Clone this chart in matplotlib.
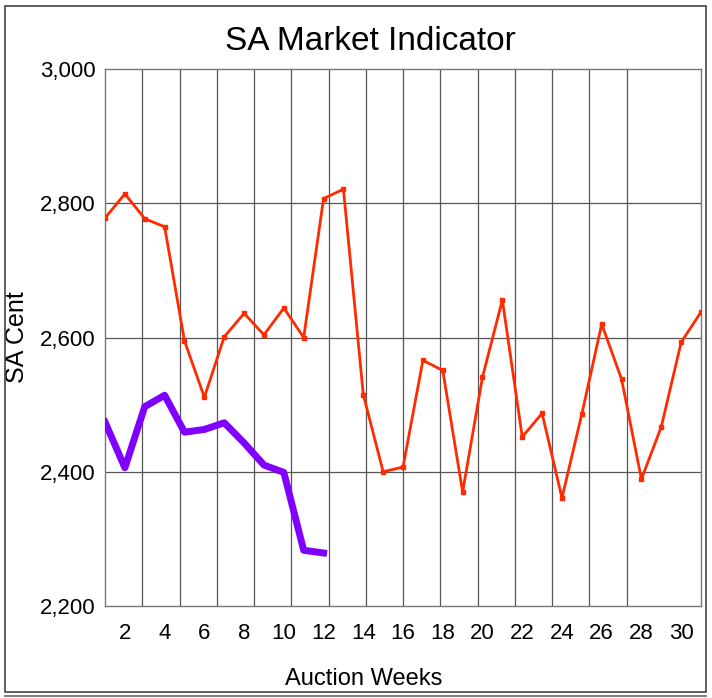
import matplotlib

matplotlib.use("Agg")
import matplotlib.pyplot as plt
from matplotlib.lines import Line2D
from matplotlib.patches import Rectangle

plt.rcParams["font.family"] = ["Liberation Sans", "DejaVu Sans"]

# Weekly SA market indicator, cents
weeks_prev = list(range(1, 32))
indicator_prev = [
    2778, 2814, 2777, 2765, 2595, 2511, 2601, 2636, 2604, 2644,
    2600, 2807, 2821, 2515, 2400, 2407, 2566, 2551, 2370, 2541,
    2656, 2452, 2487, 2361, 2486, 2620, 2538, 2389, 2467, 2593,
    2638,
]
weeks_curr = list(range(1, 13))
indicator_curr = [
    2474, 2406, 2497, 2514, 2459, 2463, 2473, 2443, 2410, 2399,
    2283, 2279,
]
x_ticks = list(range(2, 31, 2))
y_ticks = [2200, 2400, 2600, 2800, 3000]

fig = plt.figure(figsize=(7.12, 6.98), dpi=100)
ax = fig.add_axes([0.1475, 0.1318, 0.8371, 0.7693])

# vertical grid: 16 equal divisions of the week axis (one line absent)
for k in range(1, 16):
    if k == 15:
        continue
    ax.axvline(1 + 30 / 16 * k, color="#555555", lw=0.9, zorder=1)
for y in y_ticks[1:-1]:
    ax.axhline(y, color="#555555", lw=0.9, zorder=1)

ax.plot(weeks_prev, indicator_prev, color="#ff2a00", lw=2,
        marker="s", ms=3.5, zorder=3)
ax.plot(weeks_curr, indicator_curr, color="#8000ff", lw=5,
        solid_joinstyle="round", zorder=4)

ax.set_xlim(1, 31)
ax.set_ylim(2200, 3000)
ax.set_xticks(x_ticks)
ax.set_yticks(y_ticks)
ax.set_yticklabels([f"{v:,}" for v in y_ticks])
ax.tick_params(length=0, labelsize=16)
ax.tick_params(axis="x", pad=12)
ax.tick_params(axis="y", pad=7)
for spine in ax.spines.values():
    spine.set_color("#777777")
    spine.set_linewidth(1)

ax.set_ylabel("SA Cent", fontsize=18, labelpad=8)
fig.text(0.511, 0.027, "Auction Weeks", ha="center", va="center",
         fontsize=17)
fig.text(0.52, 0.94, "SA Market Indicator", ha="center", va="center",
         fontsize=24)

# outer frame of the picture, doubled along the bottom
fig.patches.append(Rectangle((0.007, 0.009), 0.985, 0.983,
                             transform=fig.transFigure, fill=False,
                             edgecolor="#444444", lw=1.2))
fig.lines.append(Line2D([0.007, 0.992], [0.003, 0.003],
                        transform=fig.transFigure, color="#666666", lw=1.2))

fig.savefig("out.png", dpi=100)
